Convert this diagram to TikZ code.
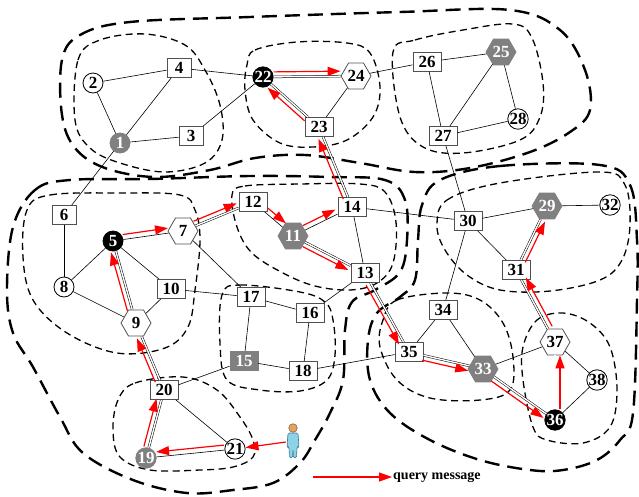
\documentclass[tikz,border=0pt]{standalone}
\usepackage{fontspec}
\setmainfont{Liberation Serif}
\usetikzlibrary{shapes.geometric,arrows.meta,calc}
\definecolor{NetGray}{HTML}{808080}
\definecolor{NetLine}{HTML}{505050}
\definecolor{QueryRed}{HTML}{FF0000}
\definecolor{UserBlue}{HTML}{8ED2E8}
\definecolor{UserLine}{HTML}{3A7890}
\definecolor{UserSkin}{HTML}{E0A266}

% red query hop, drawn beside the link on side #3 (90 = left, -90 = right)
\newcommand{\qmsg}[3]{%
  \coordinate (qoff) at ($(#1)!5pt!#3:(#2)$);
  \draw[qarrow,transform canvas={shift={($(qoff)-(#1)$)}}] (#1) -- (#2);}

\begin{document}
\begin{tikzpicture}[x=1pt,y=-1pt]
  \tikzset{
    netnode/.style={font=\fontsize{17}{17}\selectfont\bfseries,inner sep=0pt},
    netbox/.style={netnode,rectangle,draw=NetLine,line width=0.8pt,fill=white,
      minimum width=24pt,minimum height=19pt,inner xsep=5.5pt},
    netboxgray/.style={netbox,draw=NetGray,fill=NetGray,text=white},
    netcirc/.style={netnode,circle,draw=black,line width=0.8pt,fill=white,minimum size=20pt},
    netcircgray/.style={netcirc,draw=NetGray,fill=NetGray,text=white},
    netcircblack/.style={netcirc,fill=black,text=white},
    nethex/.style={netnode,regular polygon,regular polygon sides=6,draw=NetLine,
      line width=0.8pt,fill=white,minimum size=30pt},
    nethexgray/.style={nethex,draw=NetGray,fill=NetGray,text=white},
    netlink/.style={draw=black,line width=0.6pt},
    netpath/.style={draw=black,line width=0.5pt,double=white,double distance=1.4pt},
    qarrow/.style={draw=QueryRed,line width=1.2pt,
      -{Triangle[length=13pt,width=9pt]}},
    clusterinner/.style={draw=black,line width=1.3pt,dash pattern=on 7pt off 4.5pt},
    clusterouter/.style={draw=black,line width=2.4pt,dash pattern=on 15pt off 8pt},
    legendtext/.style={font=\fontsize{14}{14}\selectfont\bfseries,inner sep=1pt}
  }
  \useasboundingbox (0,0) rectangle (639,496);

  % ------------------------------------------------------------------
  % Super-clusters
  % ------------------------------------------------------------------
  \draw[clusterouter] plot[smooth cycle,tension=0.6] coordinates {
    (62,60) (80,35) (130,22) (250,17) (400,12) (510,10) (560,30) (585,70)
    (590,110) (570,132) (530,152) (470,168) (415,172) (360,163) (305,155)
    (255,158) (210,170) (155,177) (105,168) (75,148) (62,115)};
  \draw[clusterouter] plot[smooth cycle,tension=0.6] coordinates {
    (13,227) (35,190) (70,180) (150,179) (250,176) (330,177) (385,180)
    (405,200) (407,240) (400,272) (375,290) (352,302) (345,330) (343,380)
    (330,413) (315,440) (300,463) (273,483) (233,490) (187,493) (133,480)
    (83,453) (60,417) (33,367) (13,333) (7,290)};
  \draw[clusterouter] plot[smooth cycle,tension=0.6] coordinates {
    (440,180) (500,166) (600,165) (630,185) (637,240) (637,300) (633,413)
    (620,440) (597,460) (563,470) (530,470) (480,460) (430,440) (390,413)
    (370,380) (368,340) (377,313) (400,297) (415,280) (418,240) (422,205)};

  % ------------------------------------------------------------------
  % Clusters
  % ------------------------------------------------------------------
  \draw[clusterinner] plot[smooth cycle,tension=0.6] coordinates {
    (75,120) (78,60) (100,40) (145,34) (185,45) (205,70) (220,105) (222,140)
    (205,163) (165,172) (120,163) (90,148)};
  \draw[clusterinner] plot[smooth cycle,tension=0.6] coordinates {
    (247,65) (255,50) (297,42) (347,43) (370,53) (380,87) (373,117) (347,140)
    (313,147) (280,143) (253,120) (245,90)};
  \draw[clusterinner] plot[smooth cycle,tension=0.6] coordinates {
    (393,52) (415,40) (463,30) (513,24) (532,38) (543,83) (540,117) (520,140)
    (463,153) (423,147) (400,117)};
  \draw[clusterinner] plot[smooth cycle,tension=0.6] coordinates {
    (27,210) (50,195) (120,193) (180,195) (195,210) (200,240) (195,290)
    (188,327) (165,348) (117,353) (67,333) (33,300) (23,257)};
  \draw[clusterinner] plot[smooth cycle,tension=0.6] coordinates {
    (232,195) (245,186) (300,184) (360,184) (385,192) (396,222) (393,263)
    (377,283) (350,290) (315,286) (283,273) (252,253) (237,227)};
  \draw[clusterinner] plot[smooth cycle,tension=0.6] coordinates {
    (222,295) (240,285) (300,292) (325,302) (333,320) (335,355) (327,380)
    (300,391) (260,390) (227,380) (220,343)};
  \draw[clusterinner] plot[smooth cycle,tension=0.6] coordinates {
    (118,400) (135,383) (183,377) (217,390) (240,417) (253,440) (253,457)
    (233,467) (200,470) (150,470) (120,457) (113,430)};
  \draw[clusterinner] plot[smooth cycle,tension=0.6] coordinates {
    (437,225) (447,200) (500,183) (600,172) (625,185) (630,225) (622,260)
    (600,280) (550,291) (500,290) (467,275) (445,250)};
  \draw[clusterinner] plot[smooth cycle,tension=0.6] coordinates {
    (383,320) (397,300) (447,293) (480,300) (503,323) (513,357) (510,390)
    (480,400) (430,398) (397,380) (380,347)};
  \draw[clusterinner] plot[smooth cycle,tension=0.6] coordinates {
    (523,347) (537,320) (563,313) (590,323) (610,347) (617,390) (610,427)
    (583,443) (547,440) (533,427) (523,380)};

  % ------------------------------------------------------------------
  % Sensor nodes
  % ------------------------------------------------------------------
  \node[netcircgray] (n1) at (120,143) {1};
  \node[netcirc] (n2) at (93,83) {2};
  \node[netbox] (n3) at (191,136) {3};
  \node[netbox] (n4) at (179,68) {4};
  \node[netcircblack] (n5) at (113,241) {5};
  \node[netbox] (n6) at (64,215) {6};
  \node[nethex] (n7) at (183,231) {7};
  \node[netcirc] (n8) at (64,287) {8};
  \node[nethex] (n9) at (136,323) {9};
  \node[netbox] (n10) at (171,289) {10};
  \node[nethexgray] (n11) at (293,236) {11};
  \node[netbox] (n12) at (253,202) {12};
  \node[netbox] (n13) at (365,273) {13};
  \node[netbox] (n14) at (352,207) {14};
  \node[netboxgray] (n15) at (244,361) {15};
  \node[netbox] (n16) at (310,313) {16};
  \node[netbox] (n17) at (251,297) {17};
  \node[netbox] (n18) at (303,371) {18};
  \node[netcircgray] (n19) at (146,458) {19};
  \node[netbox] (n20) at (164,390) {20};
  \node[netcirc] (n21) at (235,449) {21};
  \node[netcircblack] (n22) at (263,77) {22};
  \node[netbox] (n23) at (319,127) {23};
  \node[nethex] (n24) at (356,76) {24};
  \node[nethexgray] (n25) at (501,52) {25};
  \node[netbox] (n26) at (427,62) {26};
  \node[netbox] (n27) at (443,136) {27};
  \node[netcirc] (n28) at (518,119) {28};
  \node[nethexgray] (n29) at (547,206) {29};
  \node[netbox] (n30) at (468,221) {30};
  \node[netbox] (n31) at (516,270) {31};
  \node[netcirc] (n32) at (610,205) {32};
  \node[nethexgray] (n33) at (483,369) {33};
  \node[netbox] (n34) at (443,310) {34};
  \node[netbox] (n35) at (409,352) {35};
  \node[netcircblack] (n36) at (555,420) {36};
  \node[nethex] (n37) at (555,342) {37};
  \node[netcirc] (n38) at (597,380) {38};

  % links
  \foreach \a/\b in {1/2,1/4,1/3,2/4,4/22,3/22,1/6,23/24,24/26,26/25,26/27,
      25/27,25/28,27/28,27/30,6/8,5/8,5/10,8/9,9/10,7/17,10/17,17/16,17/15,
      16/13,16/18,15/18,15/20,18/35,14/13,14/30,30/29,30/31,30/34,29/32,
      34/35,34/33,33/37,37/38,36/38,20/21,5/7,12/11,11/14,21/19}
    \draw[netlink] (n\a) -- (n\b);
  % links carrying the query
  \foreach \a/\b in {19/20,20/9,9/5,7/12,11/13,23/14,22/24,22/23,13/35,
      35/33,33/36,36/37,37/31,31/29}
    \draw[netpath] (n\a) -- (n\b);

  % ------------------------------------------------------------------
  % User issuing the query
  % ------------------------------------------------------------------
  \node[minimum width=14pt,minimum height=38pt,inner sep=0pt] (user) at (293,441) {};
  \begin{scope}[shift={(user.center)}]
    \draw[fill=UserBlue,draw=UserLine,line width=0.6pt,rounded corners=1.5pt]
      (-5,-8) -- (5,-8) -- (6,6) -- (4,6) -- (3.5,17) -- (0.5,17) -- (0,8)
      -- (-0.5,17) -- (-3.5,17) -- (-4,6) -- (-6,6) -- cycle;
    \draw[fill=UserSkin,draw=brown!70!black,line width=0.5pt] (0,-13) circle[radius=4.3pt];
  \end{scope}

  % query route
  \draw[qarrow] (user) -- (n21);
  \foreach \a/\b/\s in {21/19/-90,19/20/90,20/9/90,9/5/90,5/7/90,7/12/90,
      12/11/90,11/14/90,11/13/-90,14/23/90,23/22/90,22/24/90,13/35/-90,
      35/33/-90,33/36/-90,36/37/-90,37/31/-90,31/29/-90}
    {\qmsg{n\a}{n\b}{\s}}

  % key
  \coordinate (legstart) at (313,477);
  \node[legendtext,anchor=west] (legend) at (392,477) {query message};
  \draw[qarrow] (legstart) -- (legend.west);
\end{tikzpicture}
\end{document}
